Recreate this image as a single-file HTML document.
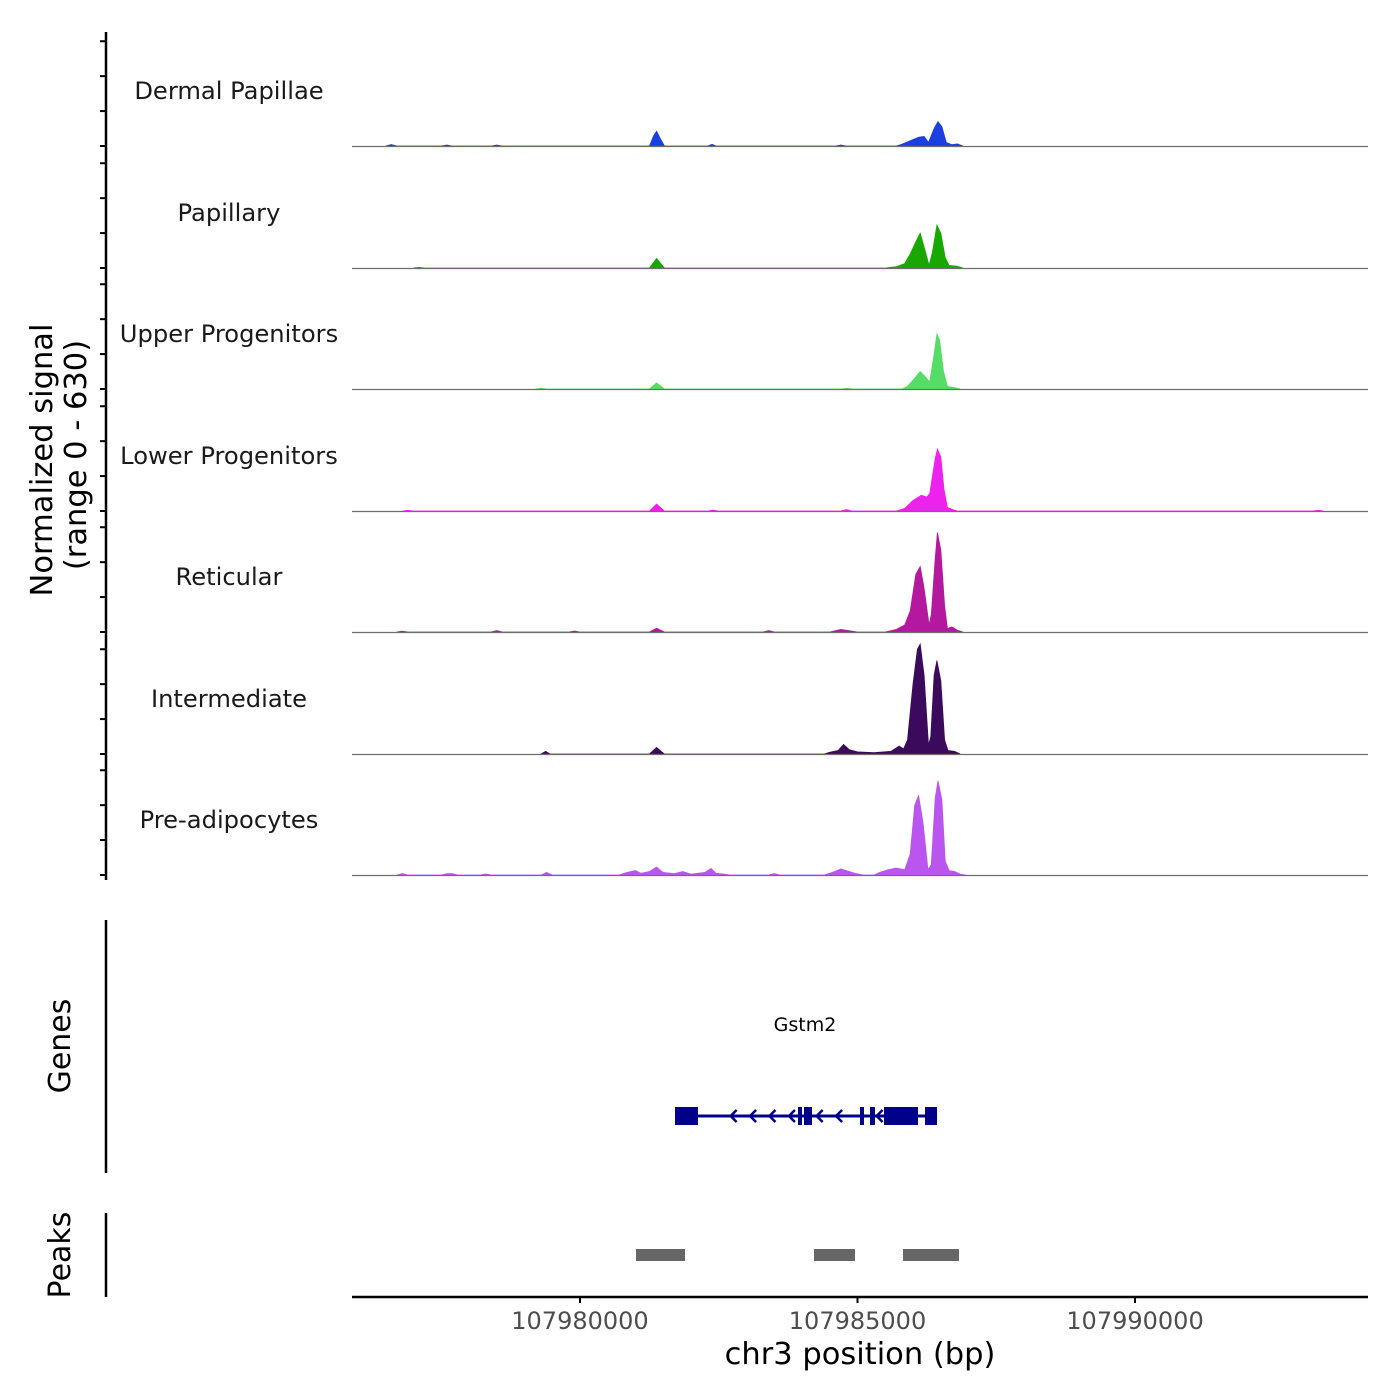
<!DOCTYPE html>
<html><head><meta charset="utf-8"><title>Coverage plot Gstm2</title>
<style>html,body{margin:0;padding:0;background:#fff;}svg{display:block;font-family:"DejaVu Sans","Liberation Sans",sans-serif;}</style>
</head><body>
<svg id="chart" width="1400" height="1400" viewBox="0 0 1400 1400"></svg>
<script>
// ---- data ----
const trackNames = ["Dermal Papillae","Papillary","Upper Progenitors","Lower Progenitors","Reticular","Intermediate","Pre-adipocytes"];
const trackColors = ["#1b3fe0","#18a800","#55dd66","#ee22ee","#b3189f","#3b0a5c","#bb55f0"];
const posDP = [107976500,107976600,107976700,107977500,107977600,107977700,107978400,107978500,107978600,107981250,107981330,107981380,107981450,107981520,107982300,107982380,107982450,107984600,107984700,107984800,107985700,107985800,107985950,107986100,107986200,107986280,107986380,107986450,107986520,107986600,107986700,107986800,107986900];
const valDP = [0,8,0,0,6,0,0,6,0,0,60,85,40,0,0,10,0,0,6,0,0,10,30,50,55,20,100,140,110,20,8,12,0];
const posPA = [107977000,107977100,107977200,107981250,107981380,107981520,107985500,107985700,107985850,107985950,107986050,107986130,107986200,107986290,107986350,107986430,107986500,107986580,107986650,107986800,107986900];
const valPA = [0,4,0,0,55,0,0,8,25,80,150,200,120,15,90,245,200,60,15,10,0];
const posUP = [107979200,107979300,107979400,107981250,107981380,107981520,107984700,107984800,107984900,107985800,107985900,107986000,107986130,107986250,107986300,107986380,107986430,107986480,107986550,107986620,107986750,107986850];
const valUP = [0,5,0,0,35,0,0,4,0,0,15,50,100,60,40,200,315,280,100,15,8,0];
const posLP = [107976800,107976900,107977000,107981250,107981380,107981520,107982300,107982400,107982500,107984700,107984800,107984900,107985700,107985850,107986000,107986150,107986250,107986300,107986400,107986440,107986500,107986560,107986620,107986700,107986800,107993200,107993300,107993400];
const valLP = [0,4,0,0,40,0,0,5,0,0,8,0,0,15,60,90,80,100,300,355,310,120,20,10,0,0,4,0];
const posRE = [107976700,107976800,107976900,107978400,107978500,107978600,107979800,107979900,107980000,107981250,107981380,107981520,107983300,107983400,107983500,107984500,107984700,107984900,107985000,107985500,107985700,107985850,107985950,107986050,107986130,107986200,107986290,107986330,107986400,107986440,107986500,107986570,107986620,107986700,107986800,107986900];
const valRE = [0,5,0,0,8,0,0,6,0,0,22,0,0,8,0,0,15,5,0,0,15,40,120,330,375,250,40,100,420,570,470,150,20,30,10,0];
const posIN = [107979300,107979380,107979460,107981250,107981380,107981520,107984400,107984500,107984650,107984750,107984850,107985000,107985300,107985600,107985750,107985830,107985900,107986000,107986080,107986130,107986200,107986280,107986320,107986380,107986430,107986500,107986570,107986630,107986750,107986850];
const valIN = [0,15,0,0,38,0,0,10,20,55,25,12,8,15,45,30,80,400,600,630,450,50,100,450,535,420,80,20,15,0];
const posPR = [107976700,107976800,107976900,107977500,107977600,107977700,107977800,107978200,107978300,107978400,107979300,107979400,107979500,107980700,107980850,107981000,107981100,107981250,107981380,107981500,107981700,107981850,107982000,107982250,107982360,107982450,107982600,107982700,107983400,107983500,107983600,107984400,107984550,107984700,107984850,107984950,107985100,107985300,107985400,107985550,107985700,107985850,107985950,107986030,107986100,107986180,107986270,107986330,107986400,107986450,107986520,107986580,107986650,107986750,107986850,107986950];
const valPR = [0,8,0,0,8,8,0,0,6,0,0,15,0,0,15,25,10,20,45,15,8,20,5,15,38,10,5,0,0,8,0,0,15,35,20,10,0,0,15,30,40,30,120,400,455,300,30,60,440,540,430,80,25,20,5,0];
const trackPos = [posDP,posPA,posUP,posLP,posRE,posIN,posPR];
const trackVal = [valDP,valPA,valUP,valLP,valRE,valIN,valPR];
const exonStarts = [107981712,107983928,107984036,107985045,107985225,107985478,107986216];
const exonEnds   = [107982126,107984000,107984180,107985117,107985315,107986090,107986433];
const geneStart = 107981712, geneEnd = 107986433;
const arrowPos = [107982750,107983100,107983450,107983800,107984300,107984650,107985380];
const peakStarts = [107981009,107984216,107985820];
const peakEnds   = [107981892,107984955,107986829];
const xTicks = [107980000,107985000,107990000];
const yMax = 630;

// ---- scales ----
const X0=352, X1=1368, BP0=107975892, BP1=107994198;
function xs(bp){return X0+(bp-BP0)/(BP1-BP0)*(X1-X0);}
const bases=[146,268,389,511,632,754,875];
function ys(v,base){return base - v/yMax*110;}

const NS="http://www.w3.org/2000/svg";
const svg=document.getElementById('chart');
function mk(tag,attrs,parent){const e=document.createElementNS(NS,tag);for(const k in attrs)e.setAttribute(k,attrs[k]);(parent||svg).appendChild(e);return e;}

let ax=mk('line',{x1:106,y1:32,x2:106,y2:880,stroke:'#000','stroke-width':2.5});


bases.forEach((b,i)=>{
  [0,200,400,600].forEach(t=>{
    const tk=mk('line',{x1:100,x2:106,y1:ys(t,b),y2:ys(t,b),stroke:'#000','stroke-width':2});
    
    
  });
});
let yt=mk('text',{x:0,y:0,'font-size':30.5,'text-anchor':'middle',fill:'#000',transform:'translate(52,460) rotate(-90)'});
yt.textContent='Normalized signal';


let yt2=mk('text',{x:0,y:0,'font-size':30.5,'text-anchor':'middle',fill:'#000',transform:'translate(86,455) rotate(-90)'});
yt2.textContent='(range 0 - 630)';



trackNames.forEach((name,i)=>{
  const b=bases[i];
  const g=mk('g',{});
  
  
  const lbl=mk('text',{x:229,y:b-47,'font-size':24.2,'text-anchor':'middle',fill:'#1a1a1a'},g);
  lbl.textContent=name;
  
  
  const P=trackPos[i],V=trackVal[i];
  let d='M'+xs(P[0]).toFixed(1)+','+b;
  for(let k=0;k<P.length;k++) d+=' L'+xs(P[k]).toFixed(1)+','+ys(V[k],b).toFixed(1);
  d+=' L'+xs(P[P.length-1]).toFixed(1)+','+b+' Z';
  const area=mk('path',{d:d,fill:trackColors[i],stroke:trackColors[i],'stroke-width':0.8},g);
  
  
  const bl=mk('line',{x1:X0,x2:X1,y1:b+0.5,y2:b+0.5,stroke:'#6e6e6e','stroke-width':1.2},g);
  
  
});

let ga=mk('line',{x1:106,y1:920,x2:106,y2:1173,stroke:'#000','stroke-width':2.5});


let gt=mk('text',{x:0,y:0,'font-size':30,'text-anchor':'middle',fill:'#000',transform:'translate(70,1046) rotate(-90)'});
gt.textContent='Genes';


let gn=mk('text',{x:805,y:1031,'font-size':19,'text-anchor':'middle',fill:'#000'});
gn.textContent='Gstm2';


let gl=mk('line',{x1:xs(geneStart),x2:xs(geneEnd),y1:1116,y2:1116,stroke:'#00008b','stroke-width':3});


arrowPos.forEach(p=>{
  const x=xs(p);
  const a=mk('path',{d:`M${x+4},${1110} L${x-2},${1116} L${x+4},${1122}`,fill:'none',stroke:'#00008b','stroke-width':2.5});
  
  
});
exonStarts.forEach((s,i)=>{
  const x=xs(s),w=Math.max(4,xs(exonEnds[i])-x);
  const r=mk('rect',{x:x,y:1107,width:w,height:18,fill:'#00008b'});
  
  
});

let pa=mk('line',{x1:106,y1:1213,x2:106,y2:1297,stroke:'#000','stroke-width':2.5});


let pt=mk('text',{x:0,y:0,'font-size':30,'text-anchor':'middle',fill:'#000',transform:'translate(70,1255) rotate(-90)'});
pt.textContent='Peaks';


peakStarts.forEach((s,i)=>{
  const r=mk('rect',{x:xs(s),y:1249,width:xs(peakEnds[i])-xs(s),height:12,fill:'#666'});
  
  
});

let xa=mk('line',{x1:X0,x2:X1,y1:1297,y2:1297,stroke:'#000','stroke-width':2.5});


xTicks.forEach(t=>{
  const x=xs(t);
  const tk=mk('line',{x1:x,x2:x,y1:1297,y2:1303,stroke:'#000','stroke-width':2});
  
  
  const tl=mk('text',{x:x,y:1329,'font-size':24,'text-anchor':'middle',fill:'#4d4d4d'});
  tl.textContent=String(t);
  
  
});
let xt=mk('text',{x:860,y:1364,'font-size':30.5,'text-anchor':'middle',fill:'#000'});
xt.textContent='chr3 position (bp)';


</script>
</body></html>
